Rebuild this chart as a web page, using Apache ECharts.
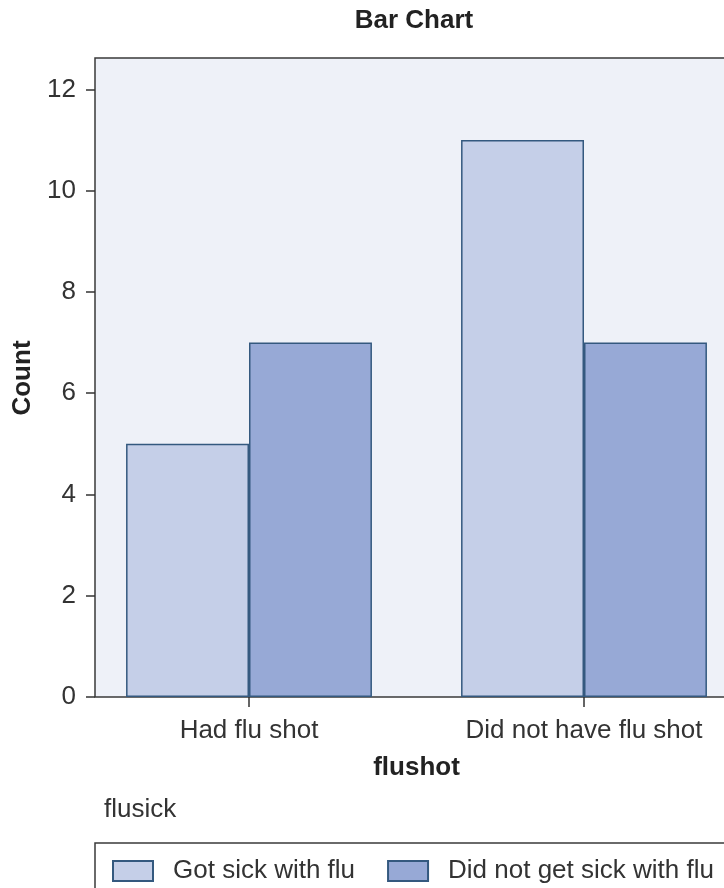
<!DOCTYPE html>
<html>
<head>
<meta charset="utf-8">
<title>Bar Chart</title>
<script src="https://cdn.jsdelivr.net/npm/echarts@6/dist/echarts.min.js"></script>
<style>
  html, body { margin: 0; padding: 0; background: #ffffff; }
  #chart { width: 724px; height: 888px; }
</style>
</head>
<body>
<div id="chart"></div>
<script>
// Counts of flu outcomes by flu-shot status
const categories = ['Had flu shot', 'Did not have flu shot'];
const seriesNames = ['Got sick with flu', 'Did not get sick with flu'];
const gotSick = [5, 11];
const notSick = [7, 7];
const yTicks = [0, 2, 4, 6, 8, 10, 12];

const FONT = "'Liberation Sans', Arial, Helvetica, sans-serif";
const TEXT = '#333333';
const EDGE = '#34597f';

const chart = echarts.init(document.getElementById('chart'), null, { renderer: 'canvas' });

chart.setOption({
  backgroundColor: '#ffffff',
  animation: false,
  textStyle: { fontFamily: FONT },
  title: [
    {
      text: 'Bar Chart',
      left: 409,
      top: 3,
      textAlign: 'center',
      textStyle: { fontFamily: FONT, fontSize: 26, fontWeight: 'bold', color: '#222' }
    },
    {
      text: 'flusick',
      left: 99,
      top: 792,
      textStyle: { fontFamily: FONT, fontSize: 26, fontWeight: 'normal', color: TEXT }
    }
  ],
  // plot wall with its frame
  graphic: [
    {
      type: 'rect',
      z: -10,
      silent: true,
      shape: { x: 95, y: 58, width: 700, height: 639 },
      style: { fill: '#eef1f8', stroke: '#3a3a3a', lineWidth: 1.5 }
    }
  ],
  grid: { left: 81.5, top: 59, right: -27.5, height: 638, outerBoundsMode: 'none', containLabel: false },
  xAxis: {
    type: 'category',
    data: categories,
    axisLine: { show: false },
    axisTick: { show: true, alignWithLabel: true, length: 10, lineStyle: { color: '#333', width: 1.5 } },
    axisLabel: { fontFamily: FONT, fontSize: 26, color: TEXT, margin: 21 },
    name: 'flushot',
    nameLocation: 'middle',
    nameGap: 58,
    nameTextStyle: { fontFamily: FONT, fontSize: 26, fontWeight: 'bold', color: '#222' },
    splitLine: { show: false }
  },
  yAxis: {
    type: 'value',
    min: 0,
    max: 12.6,
    offset: -13.5,
    axisLine: { show: false },
    axisTick: { show: true, length: 9, customValues: yTicks, lineStyle: { color: '#333', width: 1.5 } },
    axisLabel: { fontFamily: FONT, fontSize: 26, color: TEXT, margin: 19, customValues: yTicks },
    splitLine: { show: false },
    name: 'Count',
    nameLocation: 'middle',
    nameGap: 59,
    nameRotate: 90,
    nameTextStyle: { fontFamily: FONT, fontSize: 26, fontWeight: 'bold', color: '#222' }
  },
  legend: {
    data: seriesNames,
    icon: 'rect',
    left: 95,
    top: 843,
    width: 640,
    orient: 'horizontal',
    itemWidth: 40,
    itemHeight: 20,
    itemGap: 32,
    borderColor: '#3a3a3a',
    borderWidth: 1.5,
    padding: [15, 24, 15, 17],
    selectedMode: false,
    textStyle: { fontFamily: FONT, fontSize: 26, color: TEXT, padding: [0, 0, 0, 15] }
  },
  series: [
    {
      name: seriesNames[0],
      type: 'bar',
      data: gotSick,
      barGap: '0%',
      barCategoryGap: '26.6%',
      itemStyle: { color: '#c5cfe8', borderColor: EDGE, borderWidth: 1.5 }
    },
    {
      name: seriesNames[1],
      type: 'bar',
      data: notSick,
      itemStyle: { color: '#97a9d6', borderColor: EDGE, borderWidth: 1.5 }
    }
  ]
});
</script>
</body>
</html>
